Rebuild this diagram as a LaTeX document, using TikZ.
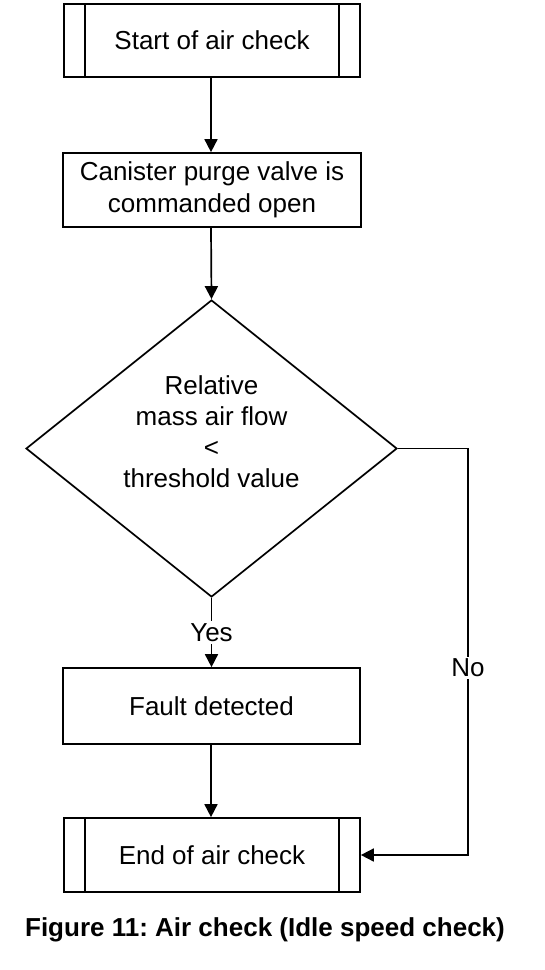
\documentclass[tikz,border=0pt]{standalone}
\usepackage{fontspec}
\setmainfont{Liberation Sans}
\usetikzlibrary{arrows.meta,shapes.geometric}
\frenchspacing
\tikzset{
  box/.style={draw,rectangle,line width=1.7pt,inner sep=0pt,align=center,font=\fontsize{26}{32}\selectfont},
  dec/.style={draw,diamond,line width=1.7pt,inner sep=0pt,minimum width=371pt,minimum height=297pt},
  txt/.style={align=center,inner sep=1pt,font=\fontsize{26}{31}\selectfont},
  conn/.style={line width=1.7pt,-{Triangle[length=13pt,width=13pt]}},
  plain/.style={line width=1.7pt},
  lbl/.style={fill=white,inner sep=2pt,font=\fontsize{26}{31}\selectfont}
}
\begin{document}
\begin{tikzpicture}[x=1pt,y=-1pt]
\useasboundingbox (0,0) rectangle (544,970);
\coordinate (xa) at (211,0);
\node[box,minimum width=296pt,minimum height=73pt] (s) at (212,40.5) {Start of air check};
\draw[plain] ([xshift=22pt]s.north west) -- ([xshift=22pt]s.south west);
\draw[plain] ([xshift=-22pt]s.north east) -- ([xshift=-22pt]s.south east);
\node[box,minimum width=298pt,minimum height=74pt] (c) at (212,190) {Canister purge valve is\\commanded open};
\node[dec] (d) at (211.5,448.5) {};
\node[txt] (dt) at (211.5,432) {Relative\\mass air flow\\<\\threshold value};
\node[box,minimum width=297pt,minimum height=76pt] (f) at (211.5,706) {Fault detected};
\node[box,minimum width=296pt,minimum height=74pt] (e) at (212,855) {End of air check};
\draw[plain] ([xshift=22pt]e.north west) -- ([xshift=22pt]e.south west);
\draw[plain] ([xshift=-22pt]e.north east) -- ([xshift=-22pt]e.south east);
\coordinate (c1) at (468,448.5);
\coordinate (c2) at (468,855);
\draw[conn] (s.south -| xa) -- (c.north -| xa);
\draw[conn] (c.south -| xa) -- (d.north);
\draw[conn] (d.south) -- node[lbl] (yes) {Yes} (f.north);
\draw[conn] (f.south -| xa) -- (e.north -| xa);
\draw[conn] (d.east) -- (c1) -- node[lbl,pos=0.54] (no) {No} (c2) -- (e.east);
\node[font=\bfseries\fontsize{26}{31}\selectfont] (cap) at (265,930) {Figure 11: Air check (Idle speed check)};
\end{tikzpicture}
\end{document}
